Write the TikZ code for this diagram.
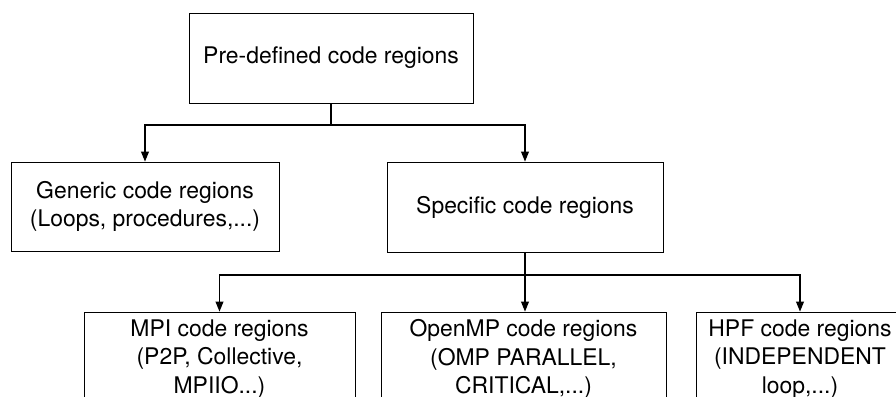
\documentclass[tikz,border=0pt]{standalone}
\usepackage{fontspec}
\setmainfont{TeX Gyre Heros}
\usepackage{tikz}
\usetikzlibrary{positioning, fit, arrows.meta}

\begin{document}
\begin{tikzpicture}[>={Triangle[length=7pt,width=5.5pt]}, % Arrow tip style
    region/.style={draw, rectangle, line width=0.6pt, inner sep=0pt, align=center,
        font=\fontsize{16.3}{20.3}\selectfont},
    link/.style={line width=0.8pt}]
                        % Frame of the page, the lower boxes run past it
                        \clip (0,0) rectangle (22.4,-9.9);

                        % Root and first level of regions
                        \node[region, minimum width=7.1cm, minimum height=2.25cm] (Root) at (8.275,-1.45) {Pre-defined code regions};
                        \node[region, minimum width=6.7cm, minimum height=2.225cm] (Generic) at (3.625,-5.1625) {Generic code regions\\(Loops, procedures,...)};
                        \node[region, minimum width=6.9cm, minimum height=2.25cm] (Specific) at (13.125,-5.175) {Specific code regions};

                        % Second level of regions
                        \node[region, minimum width=6.775cm, minimum height=2.35cm] (MPI) at (5.4875,-8.975) {MPI code regions\\(P2P, Collective,\\MPIIO...)};
                        \node[region, minimum width=7.125cm, minimum height=2.35cm] (OpenMP) at (13.0875,-8.975) {OpenMP code regions\\(OMP PARALLEL,\\CRITICAL,...)};
                        \node[region, minimum width=5.2cm, minimum height=2.35cm] (HPF) at (20,-8.975) {HPF code regions\\(INDEPENDENT\\loop,...)};

                        % Branch points of the tree
                        \coordinate (SplitA) at (8.275,-3.125);
                        \coordinate (SplitB) at (13.125,-6.875);

                        % Draw tree edges with arrows
                        \draw[link] (Root.south) -- (SplitA);
                        \draw[link, ->] (SplitA) -| (Generic.north);
                        \draw[link, ->] (SplitA) -| (Specific.north);

                        \draw[link] (Specific.south) -- (SplitB);
                        \draw[link, ->] (SplitB) -| (MPI.north);
                        \draw[link, ->] (SplitB) -- (OpenMP.north -| SplitB);
                        \draw[link, ->] (SplitB) -| (HPF.north);
                    \end{tikzpicture}
\end{document}
